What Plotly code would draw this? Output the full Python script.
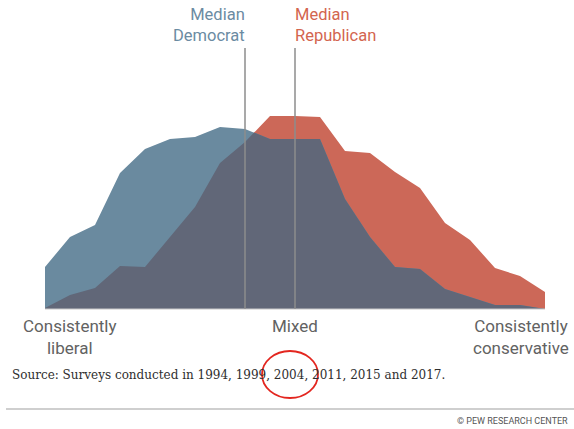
import numpy as np
import plotly.graph_objects as go

# Ideological consistency scale, 21 positions from consistently liberal (0)
# to consistently conservative (20); share of each party at each position (%)
scale_pos = list(range(21))
democrats = [2.1, 3.6, 4.2, 6.8, 8.0, 8.5, 8.6, 9.1, 9.0, 8.5, 8.5,
             8.5, 5.5, 3.6, 2.1, 2.0, 1.0, 0.6, 0.2, 0.2, 0.0]
republicans = [0.05, 0.7, 1.05, 2.15, 2.1, 3.6, 5.1, 7.3, 8.35, 9.65, 9.65,
               9.6, 7.9, 7.8, 6.85, 6.05, 4.3, 3.45, 2.05, 1.65, 0.85]
median_dem = 8
median_rep = 10
scale_labels = ["Consistently<br>liberal", "Mixed", "Consistently<br>conservative"]
scale_label_pos = [1.0, 10.0, 19.05]

W, H = 574, 429
DEM_C = "#6a8a9f"
REP_C = "#cc6858"
BOTH_C = "#616778"


def overlap(x, a, b):
    """Pointwise minimum of two polylines, with crossing points inserted."""
    xs, ys = [], []
    for i in range(len(x) - 1):
        xs.append(x[i]); ys.append(min(a[i], b[i]))
        d0, d1 = a[i] - b[i], a[i + 1] - b[i + 1]
        if d0 * d1 < 0:
            t = d0 / (d0 - d1)
            xs.append(x[i] + t * (x[i + 1] - x[i]))
            ys.append(a[i] + t * (a[i + 1] - a[i]))
    xs.append(x[-1]); ys.append(min(a[-1], b[-1]))
    return xs, ys


ox, oy = overlap(np.array(scale_pos, float), np.array(democrats), np.array(republicans))

fig = go.Figure()
for xv, yv, col in [(scale_pos, republicans, REP_C),
                    (scale_pos, democrats, DEM_C),
                    (ox, oy, BOTH_C)]:
    fig.add_trace(go.Scatter(x=xv, y=yv, mode="lines", fill="tozeroy",
                             fillcolor=col, line=dict(width=0, color=col),
                             hoverinfo="skip", showlegend=False))

# baseline
fig.add_shape(type="line", x0=scale_pos[0], x1=scale_pos[-1], y0=0, y1=0,
              line=dict(color="#c8c8c8", width=1.2), layer="above")

# median markers
for m in (median_dem, median_rep):
    fig.add_shape(type="line", x0=m, x1=m, y0=0, y1=13.05,
                  line=dict(color="#8c8c8c", width=1.5), layer="above")


def px(x):
    return x / W


def py(y):
    return 1 - y / H


fig.add_annotation(x=px(247), y=py(3), xref="paper", yref="paper",
                   text="Median<br>Democrat", showarrow=False,
                   xanchor="right", yanchor="top", align="right",
                   font=dict(family="Roboto", size=16.5, color="#6b8ba2"))
fig.add_annotation(x=px(293), y=py(3), xref="paper", yref="paper",
                   text="Median<br>Republican", showarrow=False,
                   xanchor="left", yanchor="top", align="left",
                   font=dict(family="Roboto", size=16.5, color="#d3654f"))

for lab, pos in zip(scale_labels, scale_label_pos):
    fig.add_annotation(x=pos, y=py(314), xref="x", yref="paper",
                       text=lab, showarrow=False, xanchor="center",
                       yanchor="top", align="center",
                       font=dict(family="Roboto", size=17, color="#626262"))

fig.add_annotation(x=px(10), y=py(375), xref="paper", yref="paper",
                   text="Source: Surveys conducted in 1994, 1999, 2004, 2011, 2015 and 2017.",
                   showarrow=False, xanchor="left", yanchor="middle",
                   font=dict(family="DejaVu Serif", size=12.0, color="#2e2e2e"))

# hand-drawn emphasis circle around 2004
fig.add_shape(type="circle", xref="paper", yref="paper",
              x0=px(262), x1=px(318), y0=py(398), y1=py(351),
              line=dict(color="#e3261f", width=1.8))

# footer rule and credit
fig.add_shape(type="line", xref="paper", yref="paper",
              x0=px(6), x1=px(574), y0=py(409), y1=py(409),
              line=dict(color="#cfcfcf", width=2))
fig.add_annotation(x=px(570), y=py(421), xref="paper", yref="paper",
                   text="© PEW RESEARCH CENTER", showarrow=False,
                   xanchor="right", yanchor="middle",
                   font=dict(family="Roboto", size=9, color="#555555"))

fig.update_layout(
    width=W, height=H,
    margin=dict(l=0, r=0, t=0, b=0),
    paper_bgcolor="white", plot_bgcolor="white",
    xaxis=dict(range=[-1.8, 21.16], visible=False, fixedrange=True),
    yaxis=dict(range=[-6, 15.45], visible=False, fixedrange=True),
)

fig.write_html("out.html")
